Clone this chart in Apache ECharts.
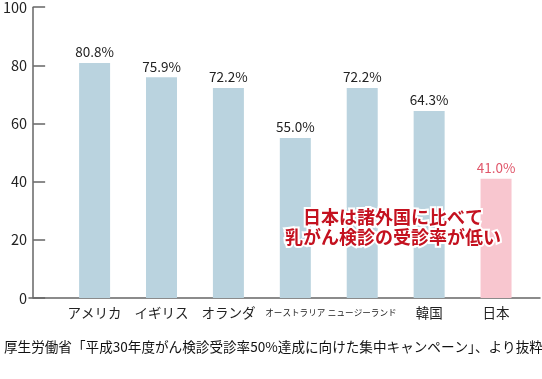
<!DOCTYPE html>
<html><head><meta charset="utf-8">
<script src="https://cdn.jsdelivr.net/npm/echarts@6/dist/echarts.min.js"></script>
<style>html,body{margin:0;padding:0;background:#fff}#c{width:542px;height:379px}</style>
</head><body><div id="c"></div>
<script>
const categories = ['アメリカ','イギリス','オランダ','オーストラリア','ニュージーランド','韓国','日本'];
const rates = [80.8, 75.9, 72.2, 55.0, 72.2, 64.3, 41.0];
const yTicks = [0, 20, 40, 60, 80, 100];
const highlight = '日本';
const note = ['日本は諸外国に比べて', '乳がん検診の受診率が低い'];
const source = '厚生労働省「平成30年度がん検診受診率50%達成に向けた集中キャンペーン」、より抜粋';

const font = '"Noto Sans CJK JP", "Noto Sans", sans-serif';
const chart = echarts.init(document.getElementById('c'));
chart.setOption({
  animation: false,
  textStyle: { fontFamily: font },
  title: {
    text: source, left: -1, top: 335,
    textStyle: { fontSize: 13.6, fontWeight: 'normal', color: '#111', fontFamily: font }
  },
  grid: [
    { left: 57, right: 12.5, top: 5, bottom: 81 },
    { left: 29, right: 2, top: 5, bottom: 81 }
  ],
  xAxis: [
    {
      type: 'category', gridIndex: 0, data: categories.map(c => ({
        value: c,
        textStyle: (c.length > 5) ? { fontSize: 8.6 } : { fontSize: 13.5 }
      })),
      axisLine: { show: false }, axisTick: { show: false },
      axisLabel: { color: '#222', margin: 6, fontSize: 13.5, interval: 0, verticalAlign: 'top', lineHeight: 18 }
    },
    {
      type: 'value', gridIndex: 1, min: 0, max: 1,
      axisLine: { show: true, lineStyle: { color: '#666', width: 1.5 } },
      axisTick: { show: false }, axisLabel: { show: false }, splitLine: { show: false }
    }
  ],
  yAxis: [
    {
      type: 'value', gridIndex: 0, min: yTicks[0], max: yTicks[yTicks.length - 1], interval: 20,
      offset: 28,
      axisLine: { show: true, lineStyle: { color: '#666', width: 1.5 } },
      axisTick: { show: true, inside: true, length: 12, lineStyle: { color: '#666', width: 1.5 } },
      axisLabel: { color: '#222', fontSize: 14.5, margin: 6 },
      splitLine: { show: false }
    },
    {
      type: 'value', gridIndex: 1, min: 0, max: 1, show: false
    }
  ],
  series: [{
    type: 'bar', xAxisIndex: 0, yAxisIndex: 0,
    barWidth: 31,
    data: rates.map((v, i) => ({
      value: v,
      itemStyle: { color: categories[i] === highlight ? '#f8c6cf' : '#bad3df' },
      label: { color: categories[i] === highlight ? '#e0566a' : '#222' }
    })),
    label: {
      show: true, position: 'top', distance: 4, fontSize: 13.5,
      formatter: p => p.value.toFixed(1) + '%'
    }
  }],
  graphic: [{
    type: 'text', z: 100,
    x: 393, y: 207,
    style: {
      text: note.join('\n'),
      font: 'bold 18px ' + font, fill: '#c4111f', align: 'center', verticalAlign: 'top',
      lineHeight: 20, stroke: '#fff', lineWidth: 4
    }
  }]
});
</script></body></html>
